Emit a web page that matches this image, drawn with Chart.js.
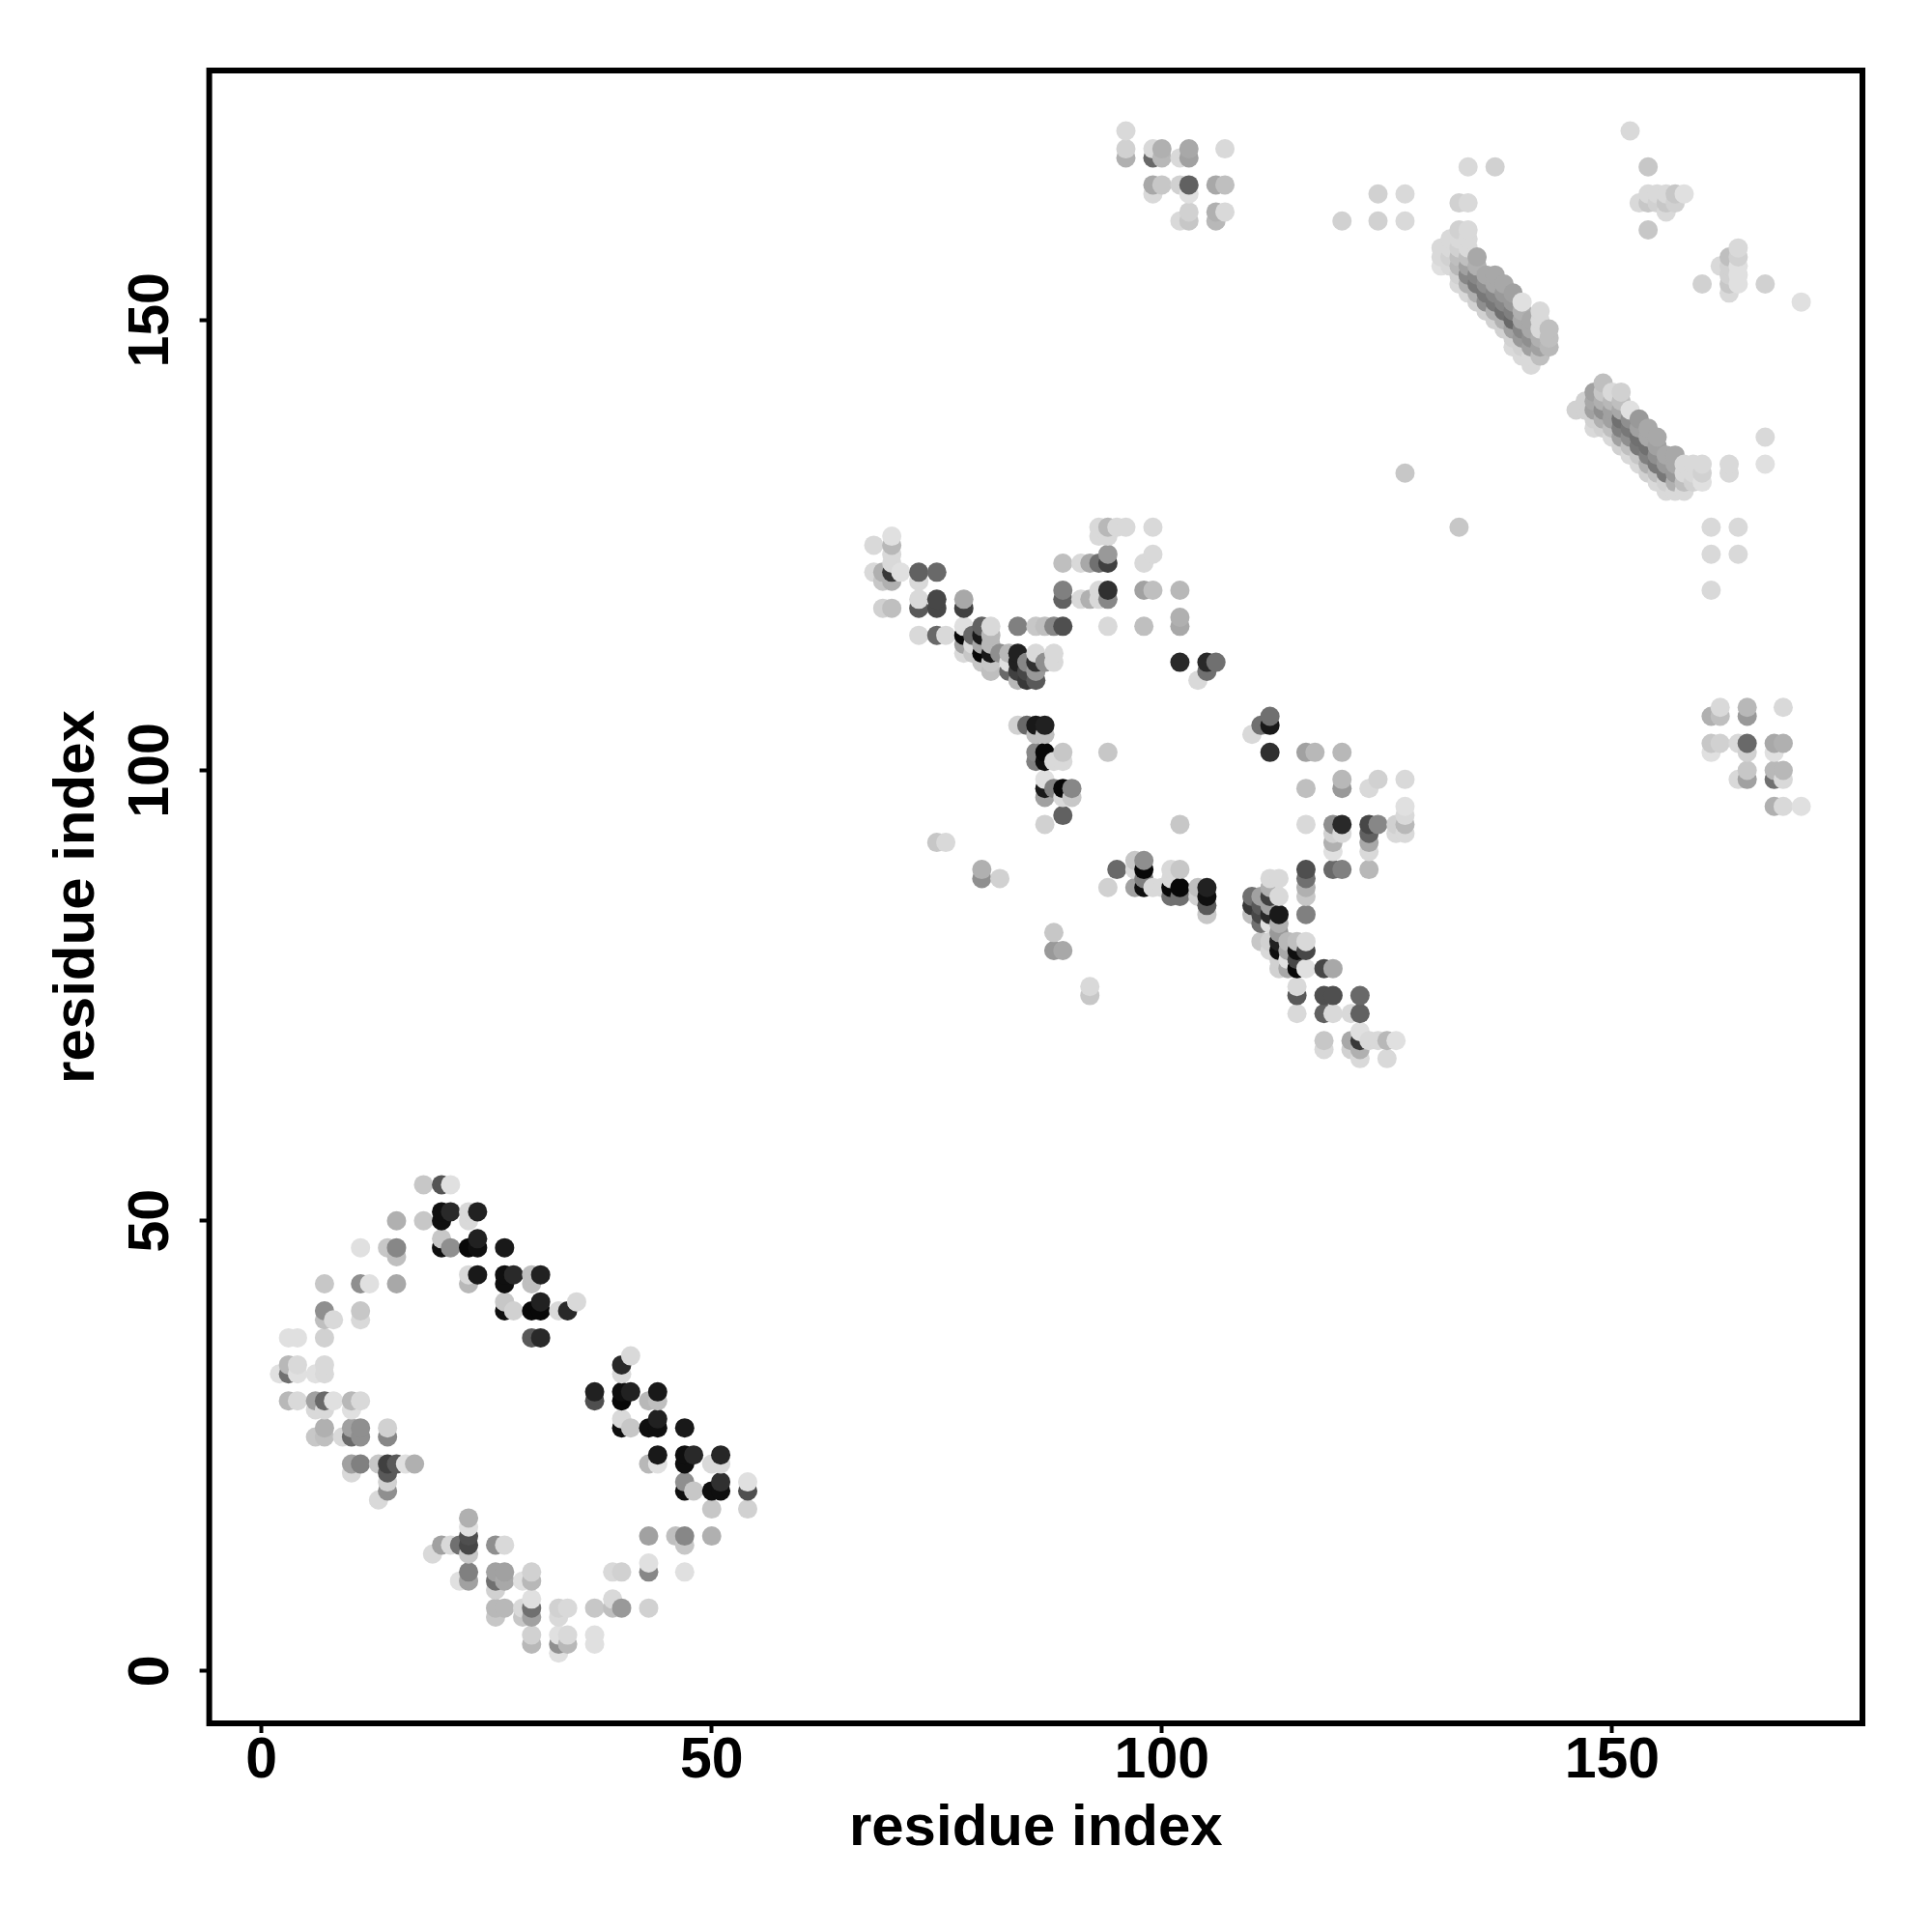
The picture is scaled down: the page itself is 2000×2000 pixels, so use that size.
<!DOCTYPE html>
<html>
<head>
<meta charset="utf-8">
<title>residue contact map</title>
<script src="https://cdn.jsdelivr.net/npm/chart.js@4"></script>
<style>
  html, body { margin: 0; padding: 0; background: #fff; }
  canvas { display: block; }
</style>
</head>
<body>
<canvas id="container" width="2000" height="2000"></canvas>
<script>
const tickValues = [0, 50, 100, 150];
const axisTitle = 'residue index';

// contacts near the origin, one line per row of y
const lowerX = [
  18, 20, 21,
  20, 21, 23, 24,
  15, 18, 20, 23,
  20, 24,
  11, 14, 15, 20, 21, 23, 24, 27,
  15,
  23, 24, 27, 28, 30, 31,
  7, 11, 12, 15, 23, 27, 30,
  27, 31, 35,
  7, 11, 27, 28, 30, 31, 33, 34,
  7, 8, 11,
  3, 4, 7, 30, 31,
  41,
  3, 4, 7, 40,
  2, 3, 4, 6, 7, 40,
  37, 40, 41, 44,
  3, 4, 6, 7, 8, 10, 11, 37, 40, 43, 44,
  6, 7, 10,
  40, 44,
  7, 10, 11, 14, 40, 41, 43, 44, 47,
  6, 7, 9, 10, 11, 14,
  44, 47, 48, 51,
  10, 11, 13, 14, 15, 16, 17, 43, 44, 47, 50, 51,
  10, 14,
  14, 47, 51, 54,
  14, 47, 48, 50, 51, 54,
  13,
  50, 54,
  23,
  23,
  23, 43, 46, 47, 50,
  20, 21, 22, 23, 26, 27, 47,
  19, 23,
  43,
  23, 26, 27, 30, 39, 40, 43, 47,
  22, 23, 26, 27, 29, 30,
  26,
  30, 39,
  26, 27, 29, 30, 33, 34, 37, 39, 40, 43,
  26, 29, 30, 33,
  30, 33, 34, 37,
  30, 33, 34, 37,
  33
];
const lowerY = [
  54, 54, 54,
  51, 51, 51, 51,
  50, 50, 50, 50,
  48, 48,
  47, 47, 47, 47, 47, 47, 47, 47,
  46,
  44, 44, 44, 44, 44, 44,
  43, 43, 43, 43, 43, 43, 43,
  41, 41, 41,
  40, 40, 40, 40, 40, 40, 40, 40,
  39, 39, 39,
  37, 37, 37, 37, 37,
  35,
  34, 34, 34, 34,
  33, 33, 33, 33, 33, 33,
  31, 31, 31, 31,
  30, 30, 30, 30, 30, 30, 30, 30, 30, 30, 30,
  29, 29, 29,
  28, 28,
  27, 27, 27, 27, 27, 27, 27, 27, 27,
  26, 26, 26, 26, 26, 26,
  24, 24, 24, 24,
  23, 23, 23, 23, 23, 23, 23, 23, 23, 23, 23, 23,
  22, 22,
  21, 21, 21, 21,
  20, 20, 20, 20, 20, 20,
  19,
  18, 18,
  17,
  16,
  15, 15, 15, 15, 15,
  14, 14, 14, 14, 14, 14, 14,
  13, 13,
  12,
  11, 11, 11, 11, 11, 11, 11, 11,
  10, 10, 10, 10, 10, 10,
  9,
  8, 8,
  7, 7, 7, 7, 7, 7, 7, 7, 7, 7,
  6, 6, 6, 6,
  4, 4, 4, 4,
  3, 3, 3, 3,
  2
];
const lowerScore = [
  .22, .67, .12,
  .94, .84, .15, .87,
  .31, .22, .94, .15,
  .22, .87,
  .12, .22, .47, .94, .44, .97, .94, .90,
  .25,
  .15, .90, .94, .84, .25, .87,
  .22, .44, .12, .34, .28, .94, .25,
  .22, .87, .15,
  .44, .22, .94, .18, .97, .97, .15, .84,
  .25, .15, .15,
  .12, .12, .18, .65, .84,
  .15,
  .28, .15, .15, .84,
  .12, .56, .12, .12, .15, .15,
  .87, .94, .87, .90,
  .28, .15, .37, .59, .12, .28, .15, .69, .97, .28, .25,
  .15, .15, .12,
  .15, .87,
  .31, .37, .44, .18, .94, .22, .94, .94, .90,
  .22, .25, .15, .59, .44, .47,
  .90, .94, .84, .85,
  .37, .50, .22, .75, .65, .12, .31, .28, .12, .94, .15, .15,
  .15, .65,
  .18, .44, .81, .12,
  .44, .94, .22, .94, .94, .69,
  .15,
  .22, .18,
  .31,
  .12,
  .69, .37, .25, .47, .31,
  .37, .15, .56, .72, .44, .15, .22,
  .15, .22,
  .12,
  .50, .37, .37, .18, .15, .18, .47, .12,
  .12, .37, .56, .34, .12, .28,
  .18,
  .12, .15,
  .28, .28, .15, .56, .18, .15, .22, .25, .40, .18,
  .22, .22, .37, .15,
  .18, .12, .15, .12,
  .28, .44, .28, .12,
  .12
];

// star shaped group in the middle of the map
const middleX = [
  93, 94, 95, 96, 99,
  70, 93, 94,
  68, 70,
  70, 94, 99,
  70, 89, 91, 92, 93, 94, 98,
  68, 69, 70, 71, 73, 75,
  69, 70, 73,
  89, 93, 94, 98, 99, 102,
  73, 75, 78, 89, 91, 92, 93, 94,
  69, 70, 73, 75, 78,
  102,
  78, 80, 81, 84, 86, 87, 88, 89, 94, 98, 102,
  73, 75, 76, 78, 79, 80, 81,
  78, 79, 80, 81,
  78, 79, 80, 81, 82, 83, 84, 86, 88,
  80, 81, 83, 84, 85, 86, 87, 88, 102, 105, 106,
  81, 83, 84, 85, 86, 105,
  84, 85, 86, 104,
  112,
  84, 85, 86, 87, 111, 112,
  86, 87, 110,
  86, 87, 89, 94, 112, 116, 117, 120,
  86, 87, 88, 89,
  87, 120, 124, 127,
  87, 88, 89, 90, 116, 120, 123,
  87, 89, 90,
  127,
  89, 127,
  87, 102, 116, 119, 120, 123, 124, 126, 127,
  119, 120, 123, 126, 127,
  75, 76, 119, 123,
  119, 123,
  97, 98,
  80, 95, 97, 98, 101, 102, 116, 119, 120, 123,
  80, 82, 98, 101, 112, 113, 116,
  94, 97, 98, 99, 100, 101, 102, 104, 105, 112, 116,
  101, 102, 104, 105, 110, 111, 112, 113, 116,
  105, 110, 111, 112,
  105, 110, 111, 112, 113, 116,
  111, 112, 113,
  88, 113,
  111, 112, 113, 114, 115, 116,
  88, 89, 112, 113, 114, 115, 116,
  113, 114, 115,
  113, 114, 115, 116, 118, 119,
  92, 115,
  92, 115, 118, 119, 122,
  115, 118, 119, 121, 122,
  122,
  118, 121, 122, 123, 124, 125, 126,
  118, 121, 122,
  122, 125
];
const middleY = [
  127, 127, 127, 127, 127,
  126, 126, 126,
  125, 125,
  124, 124, 124,
  123, 123, 123, 123, 123, 123, 123,
  122, 122, 122, 122, 122, 122,
  121, 121, 121,
  120, 120, 120, 120, 120, 120,
  119, 119, 119, 119, 119, 119, 119, 119,
  118, 118, 118, 118, 118,
  117,
  116, 116, 116, 116, 116, 116, 116, 116, 116, 116, 116,
  115, 115, 115, 115, 115, 115, 115,
  114, 114, 114, 114,
  113, 113, 113, 113, 113, 113, 113, 113, 113,
  112, 112, 112, 112, 112, 112, 112, 112, 112, 112, 112,
  111, 111, 111, 111, 111, 111,
  110, 110, 110, 110,
  106,
  105, 105, 105, 105, 105, 105,
  104, 104, 104,
  102, 102, 102, 102, 102, 102, 102, 102,
  101, 101, 101, 101,
  99, 99, 99, 99,
  98, 98, 98, 98, 98, 98, 98,
  97, 97, 97,
  96,
  95, 95,
  94, 94, 94, 94, 94, 94, 94, 94, 94,
  93, 93, 93, 93, 93,
  92, 92, 92, 92,
  91, 91,
  90, 90,
  89, 89, 89, 89, 89, 89, 89, 89, 89, 89,
  88, 88, 88, 88, 88, 88, 88,
  87, 87, 87, 87, 87, 87, 87, 87, 87, 87, 87,
  86, 86, 86, 86, 86, 86, 86, 86, 86,
  85, 85, 85, 85,
  84, 84, 84, 84, 84, 84,
  83, 83, 83,
  82, 82,
  81, 81, 81, 81, 81, 81,
  80, 80, 80, 80, 80, 80, 80,
  79, 79, 79,
  78, 78, 78, 78, 78, 78,
  76, 76,
  75, 75, 75, 75, 75,
  73, 73, 73, 73, 73,
  71,
  70, 70, 70, 70, 70, 70, 70,
  69, 69, 69,
  68, 68
];
const middleScore = [
  .15, .28, .15, .15, .15,
  .12, .15, .15,
  .15, .28,
  .15, .40, .15,
  .15, .25, .15, .34, .56, .75, .15,
  .15, .31, .78, .12, .62, .59,
  .22, .31, .15,
  .50, .15, .81, .37, .25, .28,
  .15, .72, .34, .62, .15, .31, .15, .47,
  .18, .25, .65, .72, .75,
  .31,
  .12, .62, .15, .50, .22, .25, .47, .69, .15, .25, .34,
  .15, .59, .15, .97, .59, .90, .28,
  .37, .15, .34, .28,
  .15, .22, .97, .90, .44, .28, .87, .15, .15,
  .22, .22, .12, .87, .47, .81, .44, .15, .84, .84, .56,
  .25, .59, .75, .72, .40, .56,
  .28, .78, .65, .15,
  .56,
  .18, .59, .90, .87, .56, .90,
  .25, .25, .15,
  .47, .97, .22, .22, .81, .37, .28, .28,
  .50, .94, .15, .15,
  .12, .28, .18, .15,
  .90, .50, .97, .47, .25, .40, .15,
  .37, .15, .22,
  .12,
  .62, .15,
  .18, .22, .15, .44, .84, .72, .47, .18, .28,
  .18, .15, .62, .15, .15,
  .22, .15, .31, .34,
  .12, .15,
  .22, .44,
  .31, .59, .15, .97, .15, .22, .69, .59, .50, .28,
  .44, .18, .50, .15, .15, .15, .56,
  .18, .37, .94, .15, .15, .97, .97, .25, .87, .31, .31,
  .56, .56, .18, .94, .56, .37, .75, .15, .22,
  .65, .78, .65, .37,
  .22, .25, .72, .84, .90, .50,
  .56, .12, .31,
  .22, .40,
  .22, .18, .87, .28, .25, .15,
  .40, .34, .15, .94, .34, .94, .72,
  .18, .12, .72,
  .18, .34, .97, .12, .72, .34,
  .15, .15,
  .22, .65, .69, .69, .59,
  .15, .62, .15, .15, .62,
  .12,
  .22, .34, .78, .15, .15, .28, .12,
  .15, .18, .31,
  .15, .15
];

// small scattered groups towards the top and right
const upperX = [
  96, 152,
  96, 99, 100, 103, 107,
  96, 99, 100, 102, 103,
  134, 137, 154,
  99, 100, 102, 103, 106, 107,
  99, 103, 124, 127, 154, 155, 156, 157, 158,
  133, 134, 153, 154, 155, 156, 157,
  103, 106, 107, 156,
  102, 103, 106, 120, 124, 127,
  154,
  164,
  163, 164,
  162, 163, 164,
  163, 164,
  160, 163, 164, 167,
  163,
  171,
  167,
  163, 167,
  127, 163,
  133, 161, 164,
  161, 164,
  161,
  162, 165, 169,
  161, 162, 165,
  161, 162, 164, 165, 168, 169,
  161, 165, 168,
  165, 168, 169,
  164, 165, 168, 169,
  168, 169, 171
];
const upperY = [
  171, 171,
  169, 169, 169, 169, 169,
  168, 168, 168, 168, 168,
  167, 167, 167,
  165, 165, 165, 165, 165, 165,
  164, 164, 164, 164, 164, 164, 164, 164, 164,
  163, 163, 163, 163, 163, 163, 163,
  162, 162, 162, 162,
  161, 161, 161, 161, 161, 161,
  160,
  158,
  157, 157,
  156, 156, 156,
  155, 155,
  154, 154, 154, 154,
  153,
  152,
  137,
  134, 134,
  133, 133,
  127, 127, 127,
  124, 124,
  120,
  107, 107, 107,
  106, 106, 106,
  103, 103, 103, 103, 103, 103,
  102, 102, 102,
  100, 100, 100,
  99, 99, 99, 99,
  96, 96, 96
];
const upperScore = [
  .15, .15,
  .18, .15, .31, .34, .15,
  .31, .59, .28, .15, .37,
  .15, .18, .22,
  .34, .22, .18, .62, .34, .25,
  .15, .12, .18, .15, .15, .15, .15, .22, .12,
  .18, .15, .15, .22, .18, .22, .18,
  .18, .31, .15, .15,
  .15, .22, .28, .18, .18, .15,
  .22,
  .15,
  .25, .18,
  .15, .18, .12,
  .18, .12,
  .18, .22, .12, .18,
  .15,
  .12,
  .15,
  .15, .12,
  .22, .15,
  .22, .15, .15,
  .15, .15,
  .15,
  .15, .28, .15,
  .31, .25, .40,
  .22, .18, .15, .59, .34, .31,
  .12, .18, .12,
  .22, .28, .28,
  .15, .37, .56, .15,
  .31, .15, .12
];

// the two dense anti-diagonal bands, one line per column of x
const bandX = [
  131, 131, 131,
  132, 132, 132, 132,
  133, 133, 133, 133, 133, 133, 133,
  134, 134, 134, 134, 134, 134, 134, 134,
  135, 135, 135, 135, 135, 135,
  136, 136, 136, 136, 136,
  137, 137, 137, 137, 137, 137,
  138, 138, 138, 138, 138, 138,
  139, 139, 139, 139, 139, 139, 139,
  140, 140, 140, 140, 140, 140, 140,
  141, 141, 141, 141, 141, 141,
  142, 142, 142, 142, 142, 142,
  143, 143, 143,
  146,
  147, 147,
  148, 148, 148, 148, 148,
  149, 149, 149, 149, 149, 149,
  150, 150, 150, 150, 150, 150,
  151, 151, 151, 151, 151, 151, 151,
  152, 152, 152, 152, 152, 152,
  153, 153, 153, 153, 153, 153,
  154, 154, 154, 154, 154, 154,
  155, 155, 155, 155, 155, 155,
  156, 156, 156, 156, 156,
  157, 157, 157, 157, 157,
  158, 158, 158, 158,
  159, 159, 159,
  160, 160, 160
];
const bandY = [
  158, 157, 156,
  159, 158, 157, 156,
  160, 159, 158, 157, 156, 155, 154,
  160, 159, 158, 157, 156, 155, 154, 153,
  157, 156, 155, 154, 153, 152,
  155, 154, 153, 152, 151,
  155, 154, 153, 152, 151, 150,
  154, 153, 152, 151, 150, 149,
  153, 152, 151, 150, 149, 148, 147,
  152, 151, 150, 149, 148, 147, 146,
  150, 149, 148, 147, 146, 145,
  151, 150, 149, 148, 147, 146,
  149, 148, 147,
  140,
  141, 140,
  142, 141, 140, 139, 138,
  143, 142, 141, 140, 139, 138,
  142, 141, 140, 139, 138, 137,
  142, 141, 140, 139, 138, 137, 136,
  140, 139, 138, 137, 136, 135,
  139, 138, 137, 136, 135, 134,
  138, 137, 136, 135, 134, 133,
  137, 136, 135, 134, 133, 132,
  135, 134, 133, 132, 131,
  135, 134, 133, 132, 131,
  134, 133, 132, 131,
  134, 133, 132,
  134, 133, 132
];
const bandScore = [
  .15, .15, .12,
  .15, .15, .18, .15,
  .18, .15, .18, .25, .28, .18, .15,
  .15, .15, .15, .25, .37, .47, .31, .15,
  .34, .31, .47, .53, .31, .18,
  .34, .44, .53, .44, .18,
  .34, .34, .47, .53, .31, .18,
  .34, .40, .47, .56, .31, .18,
  .37, .40, .50, .59, .37, .18, .15,
  .12, .31, .34, .47, .40, .18, .15,
  .34, .34, .44, .37, .15, .15,
  .15, .15, .15, .31, .37, .25,
  .25, .25, .28,
  .18,
  .18, .18,
  .37, .34, .37, .18, .15,
  .25, .22, .31, .44, .31, .18,
  .15, .28, .37, .37, .25, .15,
  .18, .25, .34, .56, .50, .37, .18,
  .12, .44, .53, .44, .25, .15,
  .40, .37, .56, .53, .22, .15,
  .34, .34, .56, .50, .31, .18,
  .34, .37, .44, .53, .25, .15,
  .34, .40, .53, .18, .15,
  .34, .34, .40, .31, .15,
  .15, .15, .25, .15,
  .15, .15, .18,
  .15, .18, .12
];

const allX = [...lowerX, ...middleX, ...upperX, ...bandX];
const allY = [...lowerY, ...middleY, ...upperY, ...bandY];
const allScore = [...lowerScore, ...middleScore, ...upperScore, ...bandScore];

// overplotting order of the original: by x, then by y
const contacts = allX
  .map((x, i) => ({ x: x, y: allY[i], score: allScore[i] }))
  .sort((a, b) => a.x - b.x || a.y - b.y);

function grey(score) {
  const v = Math.round(255 * (1 - score));
  return 'rgb(' + v + ',' + v + ',' + v + ')';
}

// black box round the plot area
const frame = {
  id: 'frame',
  afterDraw(chart) {
    const area = chart.chartArea;
    const ctx = chart.ctx;
    ctx.save();
    ctx.strokeStyle = '#000';
    ctx.lineWidth = 6;
    ctx.lineJoin = 'miter';
    ctx.strokeRect(area.left, area.top, area.right - area.left, area.bottom - area.top);
    ctx.restore();
  }
};

const tickFont = { family: '"Liberation Sans"', size: 59, weight: 'bold' };
const titleFont = { family: '"Liberation Sans"', size: 60, weight: 'bold' };

function setTicks(scale) {
  scale.ticks = tickValues.map(v => ({ value: v }));
}

const ctx = document.getElementById('container').getContext('2d');

const chart = new Chart(ctx, {
  type: 'scatter',
  data: {
    datasets: [{
      label: 'contacts',
      data: contacts,
      pointRadius: 10,
      pointHoverRadius: 10,
      pointBorderWidth: 0,
      pointBackgroundColor: contacts.map(c => grey(c.score))
    }]
  },
  options: {
    responsive: false,
    animation: false,
    devicePixelRatio: 1,
    layout: { padding: { top: 73, right: 72, bottom: 0, left: 0 } },
    plugins: {
      legend: { display: false },
      tooltip: { enabled: false }
    },
    scales: {
      x: {
        type: 'linear',
        min: -5.8,
        max: 177.8,
        afterBuildTicks: setTicks,
        afterFit: scale => { scale.height = 216; },
        border: { display: false },
        grid: { drawOnChartArea: false, tickLength: 10, tickWidth: 4, tickColor: '#000' },
        ticks: { color: '#000', font: tickFont, padding: -6, maxRotation: 0, autoSkip: false },
        title: {
          display: true,
          text: axisTitle,
          color: '#000',
          font: titleFont,
          padding: { top: 0, bottom: 71 }
        }
      },
      y: {
        type: 'linear',
        min: -5.8,
        max: 177.7,
        afterBuildTicks: setTicks,
        afterFit: scale => { scale.width = 216.6; },
        border: { display: false },
        grid: { drawOnChartArea: false, tickLength: 10, tickWidth: 4, tickColor: '#000' },
        ticks: {
          color: '#000',
          font: tickFont,
          padding: 0,
          minRotation: 90,
          maxRotation: 90,
          autoSkip: false,
          crossAlign: 'center'
        },
        title: {
          display: true,
          text: axisTitle,
          color: '#000',
          font: titleFont,
          padding: { top: 44, bottom: 0 }
        }
      }
    }
  },
  plugins: [frame]
});
</script>
</body>
</html>
